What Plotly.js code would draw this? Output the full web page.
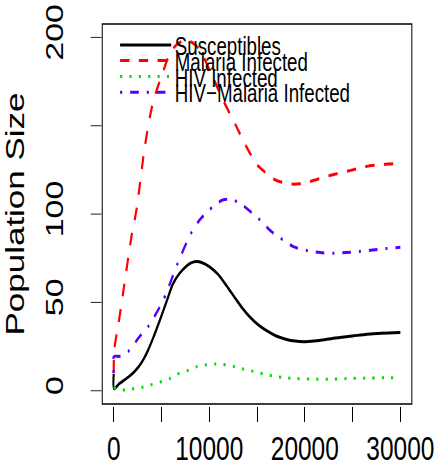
<!DOCTYPE html>
<html><head><meta charset="utf-8">
<script src="https://cdn.plot.ly/plotly-3.0.1.min.js"></script>
<style>
html,body{margin:0;padding:0;overflow:hidden;background:#fff;}
#wrap{width:608px;height:470px;transform:scaleX(0.72);transform-origin:0 0;}
</style></head><body>
<div id="wrap"><div id="plot" style="width:608px;height:470px;"></div></div>
<script>
// ---- data ----
const seriesNames = ['Susceptibles', 'Malaria Infected', 'HIV Infected', 'HIV\u2212Malaria Infected'];

const tS = [0, 30, 600, 1300, 2000, 2600, 3100, 3600, 4100, 4800, 5500, 6200, 6900, 7600, 8100, 8650, 9200, 10000, 10900, 11800, 12700, 13500, 14300, 15200, 16000, 17000, 18000, 19000, 20000, 21500, 23000, 25000, 26500, 28000, 30000];
const S  = [9.5, 1.2, 4.1, 6.8, 9.9, 13.5, 17.6, 23, 29.5, 39.5, 50, 60.5, 66.5, 70.5, 72.4, 73.1, 72.6, 70.3, 66, 59.5, 52.5, 46.5, 41.5, 37, 34, 31, 29.2, 28.1, 27.8, 28.4, 29.7, 31, 32, 32.6, 33];

const tM = [0, 20, 100, 500, 1000, 1850, 2400, 3250, 4100, 5000, 5900, 6600, 7600, 8500, 9100, 10000, 11400, 12800, 13900, 15000, 16000, 16700, 17600, 18600, 19500, 20500, 21500, 22600, 24700, 26800, 28700, 30000];
const M  = [10, 19, 25, 38, 56, 87, 103, 138, 163, 178, 191, 196, 198.5, 196, 192, 182, 165, 150, 138, 128, 123, 120, 118, 117, 117.2, 118.4, 120, 121.8, 124.6, 127.3, 128.3, 128.7];

const tH = [0, 800, 1850, 2900, 3800, 4800, 5900, 6700, 7800, 8650, 9700, 10700, 11800, 12700, 13700, 14750, 15700, 16700, 17700, 18800, 20700, 22800, 24900, 26800, 28900, 30000];
const H  = [1.9, 0.4, 1.0, 1.9, 3.2, 4.8, 7.0, 9.5, 11.6, 13.6, 14.7, 15.1, 14.6, 13.6, 12.1, 10.8, 9.5, 8.3, 7.6, 7.0, 6.6, 6.6, 7.0, 7.2, 7.4, 7.4];

const tHM = [0, 20, 600, 1500, 2700, 3600, 5200, 6700, 8100, 9000, 10000, 11400, 12500, 13500, 14500, 15300, 16500, 17700, 18800, 20300, 21600, 23000, 24300, 25700, 27100, 28500, 30000];
const HM  = [10, 19.3, 19.5, 22.1, 30.6, 36.3, 51.4, 72.2, 89.2, 96.7, 102.4, 108, 108, 105, 100.5, 96.7, 90.1, 85.4, 81.6, 79.3, 78.2, 77.8, 78.2, 78.8, 79.7, 80.5, 81.2];

const xTickVals = [0, 5000, 10000, 15000, 20000, 25000, 30000];
const xTickText = ['0', '', '10000', '', '20000', '', '30000'];
const yTickVals = [0, 50, 100, 150, 200];
const yTickText = ['0', '50', '100', '', '200'];

// ---- styling ----
const FONT = 'Liberation Sans, Arial, Helvetica, sans-serif';
const lineStyles = [
  {color: '#000000', width: 3, dash: 'solid'},
  {color: '#FF0000', width: 3, dash: '13px,13px'},
  {color: '#00DD00', width: 3, dash: '3px,10px'},
  {color: '#5500FF', width: 3, dash: '3px,11px,12px,11px'}
];
const xs = [tS, tM, tH, tHM];
const ys = [S, M, H, HM];
const legendIds = ['legend', 'legend2', 'legend3', 'legend4'];

const traces = seriesNames.map((n, i) => ({
  type: 'scatter', mode: 'lines', name: n,
  x: xs[i], y: ys[i],
  line: Object.assign({shape: 'spline', smoothing: 0.8}, lineStyles[i]),
  legend: legendIds[i]
}));

const legendY = [0.945, 0.904, 0.862, 0.821];
function mkLegend(y) {
  return {x: 0.046, y: y, xanchor: 'left', yanchor: 'middle',
    bgcolor: 'rgba(0,0,0,0)', borderwidth: 0, itemwidth: 71,
    font: {family: FONT, size: 26, color: 'black'}};
}

const tickFont = {family: FONT, size: 34, color: 'black'};
const layout = {
  width: 608, height: 470,
  margin: {l: 142, r: 36, t: 24, b: 64, pad: 0},
  paper_bgcolor: 'white', plot_bgcolor: 'white',
  showlegend: true,
  xaxis: {range: [-1200, 31200], tickmode: 'array', tickvals: xTickVals, ticktext: xTickText,
    ticks: 'outside', ticklen: 15, tickwidth: 1.4, tickcolor: 'black',
    showgrid: false, zeroline: false, showline: false,
    anchor: 'free', position: 0, tickfont: tickFont, ticklabelstandoff: -3},
  yaxis: {domain: [2/382, 1], range: [-7.5, 207.6], tickmode: 'array', tickvals: yTickVals, ticktext: yTickText,
    ticks: 'outside', ticklen: 15, tickwidth: 1, tickcolor: 'black', tickangle: -90,
    showgrid: false, zeroline: false, showline: false, tickfont: tickFont, ticklabelstandoff: 25,
    automargin: false,
    title: {text: 'Population Size', font: {family: FONT, size: 35, color: 'black'}, standoff: 12}},
  shapes: [{type: 'rect', xref: 'x domain', yref: 'y domain', x0: 0, x1: 1, y0: 0, y1: 1,
    line: {color: 'black', width: 1.4}, layer: 'above'}],
  legend: mkLegend(legendY[0]),
  legend2: mkLegend(legendY[1]),
  legend3: mkLegend(legendY[2]),
  legend4: mkLegend(legendY[3])
};

Plotly.newPlot('plot', traces, layout, {displayModeBar: false, staticPlot: true});
</script>
</body></html>
